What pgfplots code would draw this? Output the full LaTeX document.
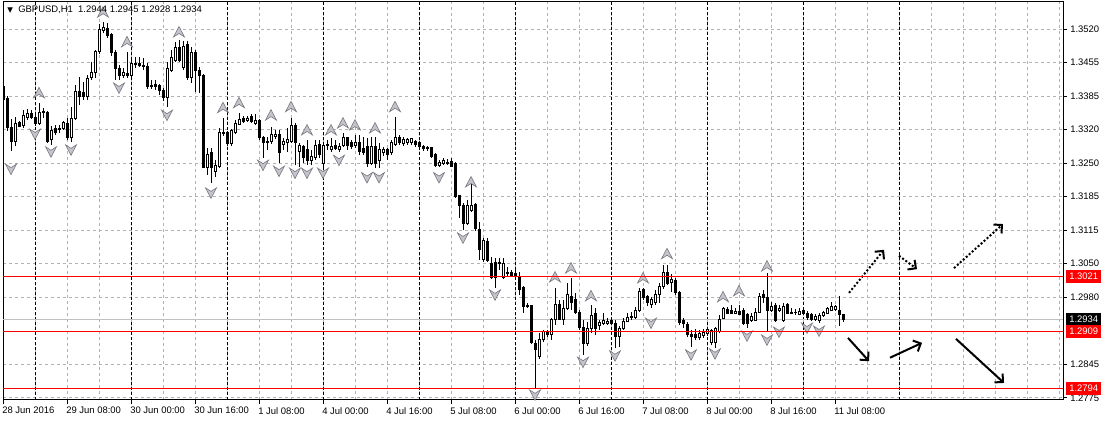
\documentclass[border=0pt]{standalone}
\usepackage{fontspec}
\setmainfont{Liberation Sans}
\newfontfamily\dejavu{DejaVu Sans}
\usepackage{pgfplots}
\pgfplotsset{compat=1.18}
\usepackage{pgfplotstable}
\usetikzlibrary{arrows.meta}

% 1 screen pixel of the terminal window
\newlength\px
\setlength\px{0.75pt}
\newcommand\tf{\fontsize{7.1}{8.5}\selectfont}

\definecolor{gridgray}{RGB}{178,178,178}
\definecolor{bidgray}{RGB}{192,192,192}
\definecolor{lvlred}{RGB}{255,0,0}
\definecolor{fracfill}{RGB}{196,196,202}
\definecolor{fracedge}{RGB}{118,118,128}

\tikzset{scen/.style={black, line width=1.5pt, -{Straight Barb[length=4.5pt, width=9pt]}},
         scendot/.style={scen, dash pattern=on 1.5pt off 1.5pt}}

% fractal arrows (up above highs, down below lows)
\pgfdeclareplotmark{fup}{%
  \pgfpathmoveto{\pgfpoint{0pt}{5.5\px}}%
  \pgfpathlineto{\pgfpoint{5.5\px}{-5\px}}%
  \pgfpathlineto{\pgfpoint{0pt}{-1.5\px}}%
  \pgfpathlineto{\pgfpoint{-5.5\px}{-5\px}}%
  \pgfpathclose\pgfusepathqfillstroke}
\pgfdeclareplotmark{fdn}{%
  \pgfpathmoveto{\pgfpoint{0pt}{-5.5\px}}%
  \pgfpathlineto{\pgfpoint{5.5\px}{5\px}}%
  \pgfpathlineto{\pgfpoint{0pt}{1.5\px}}%
  \pgfpathlineto{\pgfpoint{-5.5\px}{5\px}}%
  \pgfpathclose\pgfusepathqfillstroke}

% GBPUSD H1, h = trading hours since 29 Jun 00:00
\pgfplotstableread{
h o hi lo c
-8 1.3403 1.3407 1.3371 1.3377
-7 1.3379 1.3385 1.3314 1.3322
-6 1.3322 1.3338 1.3274 1.3292
-5 1.3292 1.3342 1.3284 1.3330
-4 1.3332 1.3334 1.3322 1.3324
-3 1.3326 1.3356 1.3320 1.3346
-2 1.3342 1.3359 1.3336 1.3350
-1 1.3350 1.3356 1.3338 1.3342
0 1.3342 1.3352 1.3324 1.3330
1 1.3330 1.3371 1.3326 1.3352
2 1.3352 1.3361 1.3340 1.3354
3 1.3352 1.3354 1.3290 1.3292
4 1.3296 1.3324 1.3286 1.3316
5 1.3320 1.3326 1.3306 1.3312
6 1.3318 1.3326 1.3310 1.3320
7 1.3320 1.3334 1.3316 1.3332
8 1.3330 1.3340 1.3296 1.3300
9 1.3300 1.3363 1.3292 1.3340
10 1.3340 1.3407 1.3336 1.3393
11 1.3393 1.3423 1.3366 1.3383
12 1.3391 1.3413 1.3377 1.3383
13 1.3383 1.3427 1.3377 1.3421
14 1.3423 1.3453 1.3417 1.3433
15 1.3433 1.3478 1.3421 1.3474
16 1.3474 1.3530 1.3470 1.3520
17 1.3518 1.3534 1.3512 1.3524
18 1.3522 1.3532 1.3502 1.3508
19 1.3508 1.3512 1.3466 1.3472
20 1.3472 1.3478 1.3417 1.3441
21 1.3441 1.3447 1.3417 1.3427
22 1.3427 1.3441 1.3421 1.3433
23 1.3431 1.3474 1.3421 1.3427
24 1.3427 1.3462 1.3421 1.3450
25 1.3449 1.3464 1.3441 1.3450
26 1.3450 1.3464 1.3443 1.3447
27 1.3447 1.3462 1.3437 1.3445
28 1.3445 1.3451 1.3399 1.3403
29 1.3405 1.3417 1.3399 1.3407
30 1.3409 1.3417 1.3397 1.3403
31 1.3405 1.3409 1.3387 1.3395
32 1.3395 1.3401 1.3375 1.3381
33 1.3381 1.3453 1.3363 1.3441
34 1.3437 1.3478 1.3433 1.3462
35 1.3457 1.3494 1.3453 1.3482
36 1.3482 1.3498 1.3453 1.3457
37 1.3443 1.3496 1.3437 1.3484
38 1.3488 1.3496 1.3417 1.3423
39 1.3423 1.3484 1.3411 1.3472
40 1.3472 1.3478 1.3393 1.3437
41 1.3437 1.3443 1.3391 1.3427
42 1.3427 1.3429 1.3239 1.3241
43 1.3241 1.3280 1.3225 1.3267
44 1.3270 1.3280 1.3209 1.3241
45 1.3233 1.3255 1.3221 1.3245
46 1.3243 1.3320 1.3239 1.3312
47 1.3312 1.3340 1.3304 1.3310
48 1.3310 1.3314 1.3284 1.3288
49 1.3288 1.3318 1.3284 1.3314
50 1.3312 1.3336 1.3308 1.3330
51 1.3328 1.3350 1.3326 1.3338
52 1.3340 1.3344 1.3330 1.3334
53 1.3336 1.3344 1.3332 1.3340
54 1.3344 1.3348 1.3330 1.3334
55 1.3330 1.3348 1.3326 1.3336
56 1.3336 1.3338 1.3296 1.3300
57 1.3300 1.3304 1.3260 1.3290
58 1.3292 1.3302 1.3276 1.3290
59 1.3292 1.3322 1.3288 1.3306
60 1.3302 1.3316 1.3298 1.3308
61 1.3308 1.3316 1.3249 1.3270
62 1.3286 1.3300 1.3276 1.3292
63 1.3290 1.3320 1.3272 1.3296
64 1.3292 1.3340 1.3290 1.3326
65 1.3326 1.3330 1.3245 1.3290
66 1.3272 1.3290 1.3241 1.3284
67 1.3282 1.3286 1.3249 1.3260
68 1.3276 1.3296 1.3245 1.3255
69 1.3255 1.3276 1.3245 1.3262
70 1.3260 1.3296 1.3255 1.3284
71 1.3286 1.3296 1.3260 1.3266
72 1.3249 1.3290 1.3241 1.3284
73 1.3284 1.3296 1.3276 1.3286
74 1.3276 1.3300 1.3272 1.3282
75 1.3284 1.3296 1.3276 1.3278
76 1.3276 1.3290 1.3272 1.3282
77 1.3284 1.3310 1.3282 1.3300
78 1.3300 1.3302 1.3276 1.3284
79 1.3290 1.3296 1.3278 1.3282
80 1.3284 1.3306 1.3280 1.3290
81 1.3290 1.3306 1.3266 1.3272
82 1.3278 1.3302 1.3266 1.3270
83 1.3282 1.3300 1.3241 1.3249
84 1.3249 1.3302 1.3245 1.3282
85 1.3282 1.3302 1.3239 1.3249
86 1.3255 1.3290 1.3239 1.3276
87 1.3270 1.3282 1.3264 1.3276
88 1.3276 1.3280 1.3255 1.3266
89 1.3270 1.3296 1.3266 1.3290
90 1.3286 1.3342 1.3284 1.3300
91 1.3300 1.3306 1.3286 1.3290
92 1.3288 1.3302 1.3284 1.3296
93 1.3290 1.3300 1.3286 1.3296
94 1.3290 1.3300 1.3286 1.3298
95 1.3292 1.3296 1.3282 1.3286
96 1.3290 1.3294 1.3278 1.3282
97 1.3282 1.3286 1.3274 1.3278
98 1.3280 1.3284 1.3274 1.3278
99 1.3280 1.3282 1.3260 1.3262
100 1.3266 1.3270 1.3241 1.3245
101 1.3245 1.3255 1.3241 1.3251
102 1.3249 1.3260 1.3245 1.3255
103 1.3251 1.3257 1.3245 1.3249
104 1.3253 1.3260 1.3241 1.3243
105 1.3249 1.3251 1.3179 1.3181
106 1.3183 1.3185 1.3139 1.3163
107 1.3163 1.3169 1.3114 1.3128
108 1.3128 1.3175 1.3124 1.3163
109 1.3154 1.3211 1.3150 1.3163
110 1.3165 1.3169 1.3112 1.3118
111 1.3116 1.3130 1.3053 1.3074
112 1.3055 1.3098 1.3049 1.3092
113 1.3090 1.3098 1.3049 1.3053
114 1.3047 1.3060 1.3015 1.3019
115 1.3049 1.3058 1.2997 1.3019
116 1.3047 1.3058 1.3033 1.3049
117 1.3019 1.3058 1.3015 1.3047
118 1.3028 1.3039 1.3019 1.3026
119 1.3028 1.3033 1.3019 1.3023
120 1.3026 1.3033 1.3019 1.3023
121 1.3019 1.3029 1.2982 1.2993
122 1.2997 1.3001 1.2947 1.2959
123 1.2961 1.2967 1.2957 1.2960
124 1.2961 1.2963 1.2884 1.2886
125 1.2884 1.2892 1.2795 1.2872
126 1.2858 1.2906 1.2854 1.2892
127 1.2892 1.2912 1.2888 1.2908
128 1.2908 1.2912 1.2898 1.2902
129 1.2902 1.2936 1.2892 1.2934
130 1.2934 1.2997 1.2922 1.2963
131 1.2963 1.2973 1.2932 1.2934
132 1.2934 1.2973 1.2922 1.2956
133 1.2956 1.3007 1.2952 1.2983
134 1.2979 1.3017 1.2952 1.2967
135 1.2973 1.2987 1.2944 1.2948
136 1.2948 1.2952 1.2912 1.2918
137 1.2918 1.2932 1.2862 1.2884
138 1.2884 1.2928 1.2880 1.2916
139 1.2916 1.2963 1.2906 1.2942
140 1.2946 1.2956 1.2902 1.2916
141 1.2922 1.2932 1.2912 1.2928
142 1.2926 1.2946 1.2922 1.2932
143 1.2926 1.2936 1.2922 1.2930
144 1.2932 1.2936 1.2922 1.2926
145 1.2926 1.2932 1.2876 1.2898
146 1.2898 1.2920 1.2878 1.2916
147 1.2916 1.2936 1.2912 1.2930
148 1.2930 1.2946 1.2928 1.2938
149 1.2938 1.2948 1.2932 1.2940
150 1.2938 1.2958 1.2934 1.2952
151 1.2952 1.2997 1.2948 1.2989
152 1.2993 1.2997 1.2973 1.2977
153 1.2979 1.2983 1.2961 1.2967
154 1.2963 1.2979 1.2957 1.2973
155 1.2967 1.2993 1.2963 1.2983
156 1.2983 1.3007 1.2967 1.2999
157 1.2999 1.3043 1.2995 1.3028
158 1.3028 1.3043 1.3003 1.3007
159 1.3007 1.3026 1.2989 1.3013
160 1.3013 1.3017 1.2983 1.2987
161 1.2987 1.2991 1.2922 1.2928
162 1.2932 1.2936 1.2916 1.2926
163 1.2924 1.2928 1.2898 1.2902
164 1.2902 1.2912 1.2878 1.2898
165 1.2902 1.2914 1.2892 1.2896
166 1.2896 1.2912 1.2892 1.2904
167 1.2900 1.2914 1.2896 1.2908
168 1.2904 1.2916 1.2900 1.2914
169 1.2886 1.2914 1.2882 1.2912
170 1.2886 1.2918 1.2876 1.2916
171 1.2908 1.2942 1.2906 1.2934
172 1.2936 1.2959 1.2934 1.2956
173 1.2954 1.2959 1.2944 1.2946
174 1.2952 1.2963 1.2944 1.2946
175 1.2946 1.2956 1.2944 1.2950
176 1.2950 1.2963 1.2942 1.2944
177 1.2952 1.2956 1.2922 1.2926
178 1.2944 1.2946 1.2916 1.2926
179 1.2932 1.2946 1.2928 1.2940
180 1.2932 1.2956 1.2930 1.2948
181 1.2948 1.2987 1.2946 1.2979
182 1.2983 1.2993 1.2967 1.2977
183 1.2977 1.3028 1.2908 1.2952
184 1.2952 1.2969 1.2948 1.2959
185 1.2961 1.2967 1.2928 1.2932
186 1.2952 1.2963 1.2948 1.2956
187 1.2932 1.2967 1.2928 1.2959
188 1.2963 1.2967 1.2944 1.2946
189 1.2948 1.2956 1.2944 1.2946
190 1.2948 1.2954 1.2942 1.2947
191 1.2944 1.2956 1.2942 1.2950
192 1.2952 1.2956 1.2944 1.2946
193 1.2946 1.2950 1.2932 1.2938
194 1.2944 1.2946 1.2930 1.2934
195 1.2934 1.2944 1.2930 1.2940
196 1.2932 1.2946 1.2926 1.2942
197 1.2942 1.2950 1.2938 1.2948
198 1.2946 1.2958 1.2944 1.2956
199 1.2952 1.2969 1.2950 1.2959
200 1.2954 1.2963 1.2950 1.2959
201 1.2952 1.2981 1.2920 1.2944
202 1.2944 1.2945 1.2928 1.2934
}\candles

\begin{document}
\begin{tikzpicture}
\begin{axis}[
    name=ax,
    scale only axis,
    width=1060\px, height=398\px,
    xmin=-8, xmax=257,
    ymin=1.27706, ymax=1.35746,
    clip mode=individual,
    axis line style={black, line width=1\px},
    tick align=outside,
    xtick pos=left, ytick pos=right, yticklabel pos=right,
    major tick length=4\px, minor tick length=0pt,
    tick style={black, line width=1\px},
    xtick={-8,8,...,200},
    xticklabels={28 Jun 2016, 29 Jun 08:00, 30 Jun 00:00, 30 Jun 16:00,
        1 Jul 08:00, 4 Jul 00:00, 4 Jul 16:00, 5 Jul 08:00, 6 Jul 00:00,
        6 Jul 16:00, 7 Jul 08:00, 8 Jul 00:00, 8 Jul 16:00, 11 Jul 08:00},
    minor xtick={0,8,...,256},
    ytick={1.2775,1.284273,1.297818,1.304591,1.311364,1.318136,
        1.324909,1.331682,1.338455,1.345227,1.3520},
    yticklabels={1.2775,1.2845,1.2980,1.3050,1.3115,1.3185,1.3250,
        1.3320,1.3385,1.3455,1.3520},
    xmajorgrids=false, xminorgrids=true, ymajorgrids=true,
    minor grid style={gridgray, dash pattern=on 3\px off 3\px, line width=1\px},
    major grid style={gridgray, dash pattern=on 3\px off 3\px, line width=1\px},
    extra x ticks={0,24,...,216},
    extra x tick labels={},
    extra x tick style={xmajorgrids=true, major tick length=0pt,
        major grid style={black, dash pattern=on 3\px off 2\px, line width=1\px}},
    /pgf/number format/assume math mode=true,
    ticklabel style={font=\tf},
    xticklabel style={anchor=north west, inner sep=0pt, xshift=-1\px, yshift=-3\px},
    yticklabel style={anchor=west, inner sep=0pt, xshift=3\px},
]
% bid line
\addplot[bidgray, line width=1\px, forget plot] coordinates {(-8,1.2934) (257,1.2934)};

% wicks
\addplot[draw=none, no markers, forget plot,
    error bars/.cd, y dir=both, y explicit, error mark=none,
    error bar style={draw=black, solid, line width=1\px}]
    table[x=h, y expr={(\thisrow{hi}+\thisrow{lo})/2},
          y error expr={(\thisrow{hi}-\thisrow{lo})/2}] {\candles};
% bodies
\addplot[draw=none, no markers, forget plot,
    error bars/.cd, y dir=both, y explicit, error mark=none,
    error bar style={draw=black, solid, line width=3\px}]
    table[x=h, y expr={(\thisrow{o}+\thisrow{c})/2},
          y error expr={abs(\thisrow{o}-\thisrow{c})/2+0.000101}] {\candles};
% hollow inside of the bull candles
\addplot[draw=none, no markers, forget plot,
    error bars/.cd, y dir=both, y explicit, error mark=none,
    error bar style={draw=white, solid, line width=1\px}]
    table[x=h, y expr={(\thisrow{o}+\thisrow{c})/2},
          y error expr={max(abs(\thisrow{c}-\thisrow{o})/2-0.000101,0)*(\thisrow{c}>\thisrow{o})}] {\candles};

% fractals
\addplot[only marks, mark=fup, forget plot,
    mark options={fill=fracfill, draw=fracedge, line width=0.6\px}] coordinates {
    (1,1.3391) (17,1.3554) (23,1.3494) (36,1.3514) (47,1.3361) (51,1.3371)
    (59,1.3346) (64,1.3363) (68,1.3316) (74,1.3316) (77,1.3330) (80,1.3326)
    (85,1.3320) (90,1.3363) (109,1.3211) (130,1.3019) (134,1.3037) (139,1.2981)
    (152,1.3017) (158,1.3066) (172,1.2979) (176,1.2991) (183,1.3041)
};
\addplot[only marks, mark=fdn, forget plot,
    mark options={fill=fracfill, draw=fracedge, line width=0.6\px}] coordinates {
    (-6,1.3237) (0,1.3308) (4,1.3272) (9,1.3276) (21,1.3401) (33,1.3346)
    (44,1.3189) (57,1.3245) (61,1.3233) (65,1.3229) (68,1.3229) (72,1.3229)
    (76,1.3255) (83,1.3220) (86,1.3220) (101,1.3220) (107,1.3098) (115,1.2983)
    (125,1.2781) (137,1.2847) (145,1.2860) (154,1.2926) (164,1.2862) (170,1.2864)
    (178,1.2900) (183,1.2892) (186,1.2908) (193,1.2916) (196,1.2910)
};

% scenario arrows
\addplot[scendot] coordinates {(203.5,1.2987) (212.25,1.3074)};
\addplot[scendot] coordinates {(216,1.3062) (220.5,1.3035)};
\addplot[scendot] coordinates {(229.75,1.3037) (242,1.3126)};
\addplot[scen] coordinates {(203.25,1.2896) (208.5,1.2849)};
\addplot[scen] coordinates {(213.75,1.2856) (221.75,1.2886)};
\addplot[scen] coordinates {(230.25,1.2894) (242.25,1.2805)};

% horizontal levels
\addplot[lvlred, line width=1\px, forget plot] coordinates {(-8,1.3021) (257,1.3021)};
\addplot[lvlred, line width=1\px, forget plot] coordinates {(-8,1.2909) (257,1.2909)};
\addplot[lvlred, line width=1\px, forget plot] coordinates {(-8,1.2794) (257,1.2794)};

% price labels
\node[anchor=west, fill=lvlred, text=white, inner xsep=3\px, inner ysep=0pt,
    minimum height=13\px, font=\tf] at (axis cs:257,1.3021) [xshift=3\px] {1.3021};
\node[anchor=west, fill=black, text=white, inner xsep=3\px, inner ysep=0pt,
    minimum height=13\px, font=\tf] at (axis cs:257,1.2934) [xshift=3\px] {1.2934};
\node[anchor=west, fill=lvlred, text=white, inner xsep=3\px, inner ysep=0pt,
    minimum height=13\px, font=\tf] at (axis cs:257,1.2909) [xshift=3\px] {1.2909};
\node[anchor=west, fill=lvlred, text=white, inner xsep=3\px, inner ysep=0pt,
    minimum height=13\px, font=\tf] at (axis cs:257,1.2794) [xshift=3\px] {1.2794};

% title
\node[anchor=base west, inner sep=0pt, font=\dejavu\fontsize{5.5}{6}\selectfont]
    at (rel axis cs:0,1) [xshift=4\px, yshift=-11\px] {▼};
\node[anchor=base west, inner sep=0pt, font=\tf]
    at (rel axis cs:0,1) [xshift=15\px, yshift=-11\px] {GBPUSD,H1\ \ 1.2944 1.2945 1.2928 1.2934};
\end{axis}
\pgfresetboundingbox
\path[use as bounding box] ([xshift=-3\px, yshift=-22\px]ax.south west)
    rectangle ([xshift=42\px, yshift=2\px]ax.north east);
\end{tikzpicture}
\end{document}
